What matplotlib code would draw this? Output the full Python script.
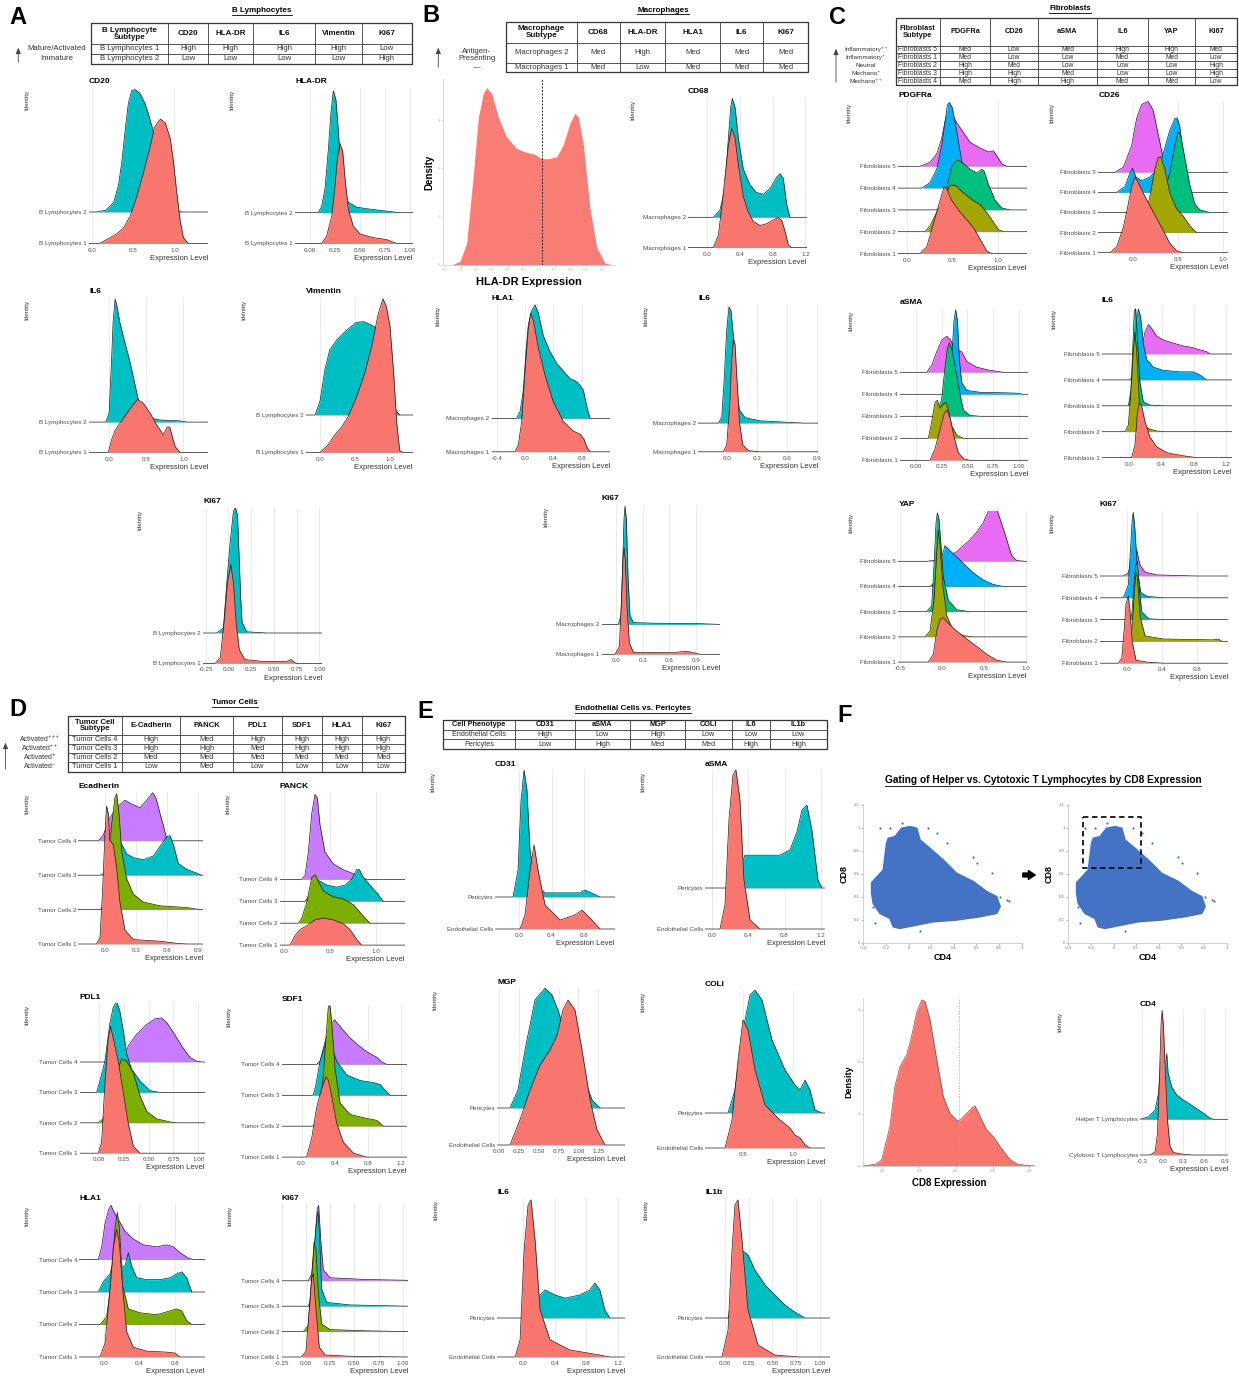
import matplotlib.pyplot as plt
from matplotlib.patches import Rectangle

W, H = 1239, 1383
plt.rcParams["font.family"] = ["Liberation Sans", "DejaVu Sans"]
plt.rcParams["mathtext.default"] = "regular"

HUE2 = ["#F8766D", "#00BFC4"]
HUE4 = ["#F8766D", "#7CAE00", "#00BFC4", "#C77CFF"]
HUE5 = ["#F8766D", "#A3A500", "#00BF7D", "#00B0F6", "#E76BF3"]

# ---------------- groups ----------------
B_LYMPH = ["B Lymphocytes 1", "B Lymphocytes 2"]
MACRO = ["Macrophages 1", "Macrophages 2"]
FIBRO = ["Fibroblasts 1", "Fibroblasts 2", "Fibroblasts 3", "Fibroblasts 4", "Fibroblasts 5"]
TUMOR = ["Tumor Cells 1", "Tumor Cells 2", "Tumor Cells 3", "Tumor Cells 4"]
ENDO = ["Endothelial Cells", "Pericytes"]
TCELL = ["Cytotoxic T Lymphocytes", "Helper T Lymphocytes"]

# ---------------- ridge curves: (expression, height in row units), bottom group first ----------------
A_CD20 = [
    [(0.09, 0), (0.22, 0.19), (0.30, 0.31), (0.38, 0.49), (0.46, 0.86), (0.54, 1.48), (0.62, 2.22), (0.70, 3.02),
     (0.76, 3.70), (0.83, 3.95), (0.89, 3.83), (0.95, 3.33), (0.99, 2.59), (1.03, 1.60), (1.07, 0.74), (1.11, 0.19), (1.17, 0)],
    [(0.05, 0), (0.17, 0.06), (0.26, 0.31), (0.32, 0.86), (0.36, 1.60), (0.40, 2.59), (0.44, 3.46), (0.48, 3.85),
     (0.52, 3.89), (0.58, 3.77), (0.64, 3.46), (0.68, 3.15), (0.72, 2.78), (0.78, 2.22), (0.87, 1.23), (0.95, 0.37), (1.03, 0.06), (1.09, 0)],
]
A_HLADR = [
    [(0.117, 0), (0.167, 0.25), (0.217, 0.875), (0.25, 1.875), (0.273, 2.75), (0.30, 3.25), (0.327, 3.0), (0.35, 2.125),
     (0.383, 1.125), (0.433, 0.56), (0.5, 0.31), (0.633, 0.19), (0.767, 0.125), (0.867, 0)],
    [(0.083, 0), (0.117, 0.21), (0.15, 0.78), (0.183, 2.03), (0.21, 3.28), (0.233, 3.96), (0.26, 3.65), (0.283, 2.65),
     (0.307, 1.53), (0.333, 0.78), (0.383, 0.34), (0.467, 0.18), (0.567, 0.13), (0.767, 0.05), (0.9, 0)],
]
A_IL6 = [
    [(-0.01, 0), (0.03, 0.39), (0.077, 0.71), (0.167, 1.04), (0.28, 1.43), (0.38, 1.75), (0.46, 1.62), (0.55, 1.30),
     (0.64, 0.91), (0.73, 0.58), (0.78, 0.84), (0.815, 0.84), (0.85, 0.52), (0.89, 0.19), (0.955, 0)],
    [(-0.045, 0), (0.0, 0.3), (0.03, 1.86), (0.054, 3.29), (0.081, 4.05), (0.108, 3.79), (0.144, 3.29), (0.21, 2.64),
     (0.28, 1.99), (0.35, 1.21), (0.41, 0.56), (0.50, 0.17), (0.68, 0.07), (0.95, 0.04), (1.05, 0)],
]
A_VIM = [
    [(0.0, 0), (0.12, 0.21), (0.21, 0.47), (0.31, 0.68), (0.40, 0.95), (0.52, 1.47), (0.64, 2.11), (0.74, 2.84),
     (0.83, 3.68), (0.90, 4.10), (0.95, 3.89), (1.0, 3.37), (1.05, 2.21), (1.10, 0.74), (1.14, 0.05), (1.19, 0)],
    [(-0.07, 0), (0.0, 0.37), (0.07, 1.21), (0.14, 1.74), (0.24, 2.0), (0.38, 2.26), (0.52, 2.47), (0.62, 2.49),
     (0.71, 2.42), (0.81, 2.32), (0.90, 1.84), (1.0, 1.0), (1.07, 0.16), (1.14, 0)],
]
A_KI67 = [
    [(-0.147, 0), (-0.09, 0.19), (-0.048, 1.36), (-0.011, 2.66), (0.026, 3.25), (0.055, 2.66), (0.084, 1.36), (0.12, 0.45),
     (0.18, 0.13), (0.385, 0.06), (0.64, 0.06), (0.69, 0.13), (0.714, 0.06), (0.75, 0)],
    [(-0.13, 0), (-0.055, 0.17), (-0.018, 1.66), (0.018, 2.96), (0.055, 4.0), (0.077, 4.13), (0.1, 3.87), (0.12, 2.31),
     (0.135, 1.14), (0.15, 0.36), (0.2, 0.04), (0.42, 0)],
]

B_CD68 = [
    [(0.073, 0), (0.135, 0.41), (0.176, 1.31), (0.216, 2.33), (0.257, 3.36), (0.298, 3.94), (0.339, 3.62), (0.38, 2.72),
     (0.44, 1.69), (0.50, 1.18), (0.563, 0.86), (0.645, 0.73), (0.727, 0.79), (0.808, 0.92), (0.869, 0.99), (0.91, 0.9),
     (0.95, 0.54), (0.99, 0.09), (1.03, 0)],
    [(0.073, 0), (0.155, 0.24), (0.216, 0.95), (0.257, 2.6), (0.286, 3.64), (0.306, 3.92), (0.339, 3.64), (0.38, 2.6),
     (0.44, 1.59), (0.52, 1.08), (0.60, 0.82), (0.686, 0.76), (0.767, 0.95), (0.849, 1.33), (0.89, 1.44), (0.93, 1.27),
     (0.97, 0.44), (1.01, 0)],
]
B_HLA1 = [
    [(-0.141, 0), (-0.094, 0.21), (-0.047, 0.91), (0.0, 2.42), (0.047, 3.7), (0.08, 4.16), (0.118, 3.93), (0.188, 3.12),
     (0.282, 2.3), (0.4, 1.49), (0.541, 0.91), (0.682, 0.62), (0.776, 0.53), (0.833, 0.38), (0.871, 0.15), (0.918, 0)],
    [(-0.118, 0), (-0.07, 0.2), (-0.024, 0.84), (0.014, 2.0), (0.047, 2.81), (0.094, 3.22), (0.141, 3.4), (0.188, 3.16),
     (0.259, 2.47), (0.353, 2.0), (0.447, 1.65), (0.541, 1.42), (0.635, 1.19), (0.706, 1.13), (0.776, 1.0), (0.824, 0.84),
     (0.871, 0.37), (0.918, 0)],
]
B_IL6 = [
    [(-0.033, 0), (0.0, 0.24), (0.027, 1.46), (0.05, 3.22), (0.067, 3.96), (0.083, 3.76), (0.1, 2.68), (0.127, 1.05),
     (0.16, 0.24), (0.217, 0.04), (0.333, 0)],
    [(-0.083, 0), (-0.05, 0.19), (-0.027, 1.41), (0.0, 3.24), (0.023, 4.05), (0.043, 3.92), (0.067, 3.0), (0.093, 1.41),
     (0.127, 0.46), (0.183, 0.19), (0.333, 0.08), (0.6, 0.03), (0.767, 0)],
]
B_KI67 = [
    [(-0.011, 0), (0.037, 0.26), (0.06, 1.69), (0.079, 3.25), (0.09, 3.57), (0.105, 3.12), (0.124, 1.56), (0.15, 0.39),
     (0.195, 0.06), (0.645, 0.06), (0.795, 0.1), (0.907, 0.03), (0.945, 0)],
    [(0.026, 0), (0.056, 0.3), (0.075, 1.99), (0.09, 3.53), (0.101, 3.96), (0.116, 3.53), (0.135, 1.6), (0.157, 0.3),
     (0.195, 0.06), (0.42, 0.04), (0.907, 0.03), (1.16, 0)],
]

C_PDGFRA = [
    [(0.14, 0), (0.214, 0.3), (0.288, 1.37), (0.362, 2.44), (0.406, 3.06), (0.435, 2.97), (0.49, 2.44), (0.583, 1.9),
     (0.657, 1.55), (0.731, 1.19), (0.804, 0.66), (0.878, 0.12), (0.934, 0)],
    [(0.196, 0), (0.25, 0.27), (0.325, 0.89), (0.417, 1.6), (0.472, 2.13), (0.528, 2.13), (0.62, 1.78), (0.73, 1.42),
     (0.804, 1.24), (0.878, 0.89), (0.952, 0.44), (1.007, 0.09), (1.063, 0)],
    [(0.325, 0), (0.4, 0.27), (0.454, 1.33), (0.49, 1.96), (0.546, 2.31), (0.62, 2.13), (0.694, 1.87), (0.768, 1.69),
     (0.823, 1.87), (0.849, 1.78), (0.897, 1.16), (0.97, 0.44), (1.044, 0.09), (1.137, 0)],
    [(0.159, 0), (0.25, 0.25), (0.325, 0.87), (0.38, 1.94), (0.417, 3.02), (0.443, 3.82), (0.465, 3.93), (0.494, 3.72),
     (0.528, 3.02), (0.565, 2.13), (0.601, 1.24), (0.638, 0.52), (0.694, 0.12), (0.768, 0)],
    [(0.14, 0), (0.25, 0.18), (0.325, 0.57), (0.38, 1.28), (0.417, 2.08), (0.454, 2.52), (0.49, 2.45), (0.546, 2.0),
     (0.62, 1.55), (0.694, 1.1), (0.804, 0.84), (0.897, 0.66), (0.952, 0.71), (0.989, 0.48), (1.044, 0.12), (1.1, 0)],
]
C_CD26 = [
    [(-0.259, 0), (-0.185, 0.29), (-0.111, 1.26), (-0.056, 2.42), (-0.019, 3.29), (0.019, 3.77), (0.056, 3.48), (0.13, 2.8),
     (0.222, 2.03), (0.315, 1.26), (0.407, 0.48), (0.481, 0.1), (0.556, 0)],
    [(0.056, 0), (0.13, 0.64), (0.185, 1.8), (0.241, 3.15), (0.278, 3.73), (0.307, 3.77), (0.352, 3.15), (0.407, 1.99),
     (0.481, 1.2), (0.556, 0.83), (0.63, 0.35), (0.704, 0)],
    [(0.259, 0), (0.333, 0.81), (0.407, 1.97), (0.463, 3.32), (0.5, 4.0), (0.526, 3.9), (0.574, 2.74), (0.63, 1.39),
     (0.685, 0.43), (0.741, 0.14), (0.852, 0)],
    [(-0.185, 0), (-0.093, 0.29), (-0.037, 0.97), (-0.007, 1.2), (0.03, 0.77), (0.093, 0.58), (0.185, 0.77), (0.278, 1.16),
     (0.333, 1.93), (0.407, 3.09), (0.463, 3.67), (0.489, 3.71), (0.519, 3.29), (0.556, 1.93), (0.593, 0.58), (0.63, 0)],
    [(-0.204, 0), (-0.111, 0.25), (-0.019, 1.31), (0.037, 2.67), (0.093, 3.38), (0.167, 3.52), (0.222, 3.09), (0.278, 1.89),
     (0.333, 0.73), (0.37, 0.12), (0.407, 0)],
]
C_ASMA = [
    [(0.136, 0), (0.185, 0.53), (0.234, 1.41), (0.273, 2.11), (0.299, 2.29), (0.331, 1.94), (0.37, 1.06), (0.412, 0.35),
     (0.461, 0.07), (0.526, 0)],
    [(0.12, 0), (0.153, 0.76), (0.185, 1.64), (0.208, 1.73), (0.234, 1.37), (0.266, 1.55), (0.292, 1.64), (0.315, 1.29),
     (0.347, 0.58), (0.396, 0.14), (0.461, 0)],
    [(0.201, 0), (0.25, 0.81), (0.282, 2.2), (0.305, 3.08), (0.325, 3.35), (0.347, 3.08), (0.39, 2.04), (0.429, 0.99),
     (0.461, 0.28), (0.526, 0.04), (0.623, 0)],
    [(0.299, 0), (0.331, 0.53), (0.351, 1.94), (0.37, 3.35), (0.386, 3.84), (0.403, 3.35), (0.422, 1.59), (0.445, 0.53),
     (0.494, 0.18), (0.623, 0.09), (0.851, 0.07), (0.981, 0.05), (1.045, 0)],
    [(0.104, 0), (0.153, 0.32), (0.201, 0.93), (0.25, 1.46), (0.299, 1.64), (0.338, 1.46), (0.37, 1.11), (0.445, 0.93),
     (0.494, 0.49), (0.591, 0.23), (0.721, 0.09), (0.851, 0)],
]
C_IL6 = [
    [(0.029, 0), (0.07, 0.49), (0.099, 1.69), (0.124, 2.14), (0.153, 1.99), (0.194, 1.39), (0.256, 0.79), (0.339, 0.42),
     (0.463, 0.19), (0.669, 0.07), (0.835, 0)],
    [(-0.054, 0), (-0.012, 0.25), (0.021, 1.6), (0.05, 3.1), (0.07, 3.85), (0.091, 3.1), (0.124, 1.16), (0.174, 0.25),
     (0.256, 0.1), (0.339, 0.03), (0.421, 0)],
    [(-0.012, 0), (0.021, 0.6), (0.041, 2.1), (0.062, 3.67), (0.079, 3.75), (0.099, 2.7), (0.132, 0.9), (0.174, 0.15),
     (0.256, 0.03), (0.421, 0)],
    [(0.008, 0), (0.05, 0.19), (0.07, 1.09), (0.091, 2.29), (0.112, 2.74), (0.14, 2.44), (0.174, 1.39), (0.215, 0.79),
     (0.298, 0.49), (0.421, 0.37), (0.628, 0.31), (0.793, 0.31), (0.876, 0.19), (0.959, 0)],
    [(0.112, 0), (0.153, 0.24), (0.194, 0.84), (0.236, 1.14), (0.277, 0.99), (0.339, 0.69), (0.421, 0.54), (0.545, 0.42),
     (0.669, 0.31), (0.793, 0.24), (0.876, 0.16), (0.959, 0.09), (1.0, 0)],
]
C_YAP = [
    [(-0.163, 0), (-0.103, 0.31), (-0.063, 1.23), (-0.024, 1.69), (0.016, 1.77), (0.075, 1.54), (0.175, 1.23), (0.294, 0.92),
     (0.413, 0.62), (0.532, 0.31), (0.651, 0.08), (0.77, 0)],
    [(-0.202, 0), (-0.143, 0.23), (-0.095, 1.46), (-0.063, 3.31), (-0.044, 4.23), (-0.024, 3.62), (0.008, 2.08), (0.056, 0.85),
     (0.135, 0.23), (0.254, 0.05), (0.373, 0)],
    [(-0.183, 0), (-0.123, 0.23), (-0.095, 1.85), (-0.071, 3.54), (-0.056, 3.92), (-0.036, 3.69), (-0.012, 2.62), (0.016, 1.38),
     (0.075, 0.46), (0.175, 0.08), (0.333, 0)],
    [(-0.143, 0), (-0.063, 0.23), (-0.004, 1.15), (0.036, 1.62), (0.075, 1.49), (0.155, 1.23), (0.254, 0.92), (0.373, 0.54),
     (0.492, 0.26), (0.611, 0.08), (0.73, 0)],
    [(-0.183, 0), (0.016, 0.08), (0.175, 0.38), (0.254, 0.62), (0.333, 0.85), (0.413, 1.15), (0.492, 1.54), (0.552, 2.0),
     (0.611, 2.18), (0.651, 2.08), (0.69, 1.69), (0.75, 1.08), (0.829, 0.23), (0.889, 0.03), (0.99, 0)],
]
C_KI67 = [
    [(-0.095, 0), (-0.057, 0.23), (-0.03, 1.48), (-0.008, 2.72), (0.019, 3.08), (0.038, 2.36), (0.065, 0.94), (0.107, 0.14),
     (0.229, 0.05), (0.419, 0)],
    [(0.019, 0), (0.057, 0.28), (0.084, 2.06), (0.103, 3.13), (0.122, 2.95), (0.152, 1.17), (0.21, 0.25), (0.419, 0.11),
     (0.99, 0.07), (1.048, 0.11), (1.086, 0)],
    [(0.019, 0), (0.057, 0.18), (0.084, 1.6), (0.103, 2.49), (0.122, 2.67), (0.141, 1.6), (0.171, 0.36), (0.248, 0.04),
     (0.419, 0)],
    [(-0.038, 0), (0.019, 0.6), (0.046, 2.4), (0.065, 3.73), (0.076, 3.91), (0.095, 3.11), (0.122, 1.32), (0.16, 0.25),
     (0.229, 0.07), (0.419, 0)],
    [(-0.038, 0), (0.019, 0.14), (0.057, 0.85), (0.084, 1.39), (0.114, 1.21), (0.152, 0.5), (0.21, 0.18), (0.343, 0.05),
     (0.61, 0.02), (0.8, 0)],
]

D_ECAD = [
    [(-0.08, 0), (-0.048, 0.19), (-0.023, 1.54), (0.0, 3.21), (0.016, 4.01), (0.032, 3.79), (0.048, 3.0), (0.08, 2.89),
     (0.113, 2.21), (0.145, 1.2), (0.193, 0.4), (0.273, 0.13), (0.531, 0.08), (0.691, 0.02), (0.788, 0)],
    [(-0.048, 0), (0.0, 0.11), (0.032, 1.12), (0.064, 2.47), (0.096, 3.26), (0.113, 3.37), (0.135, 2.81), (0.161, 1.69),
     (0.209, 0.9), (0.273, 0.45), (0.37, 0.22), (0.531, 0.11), (0.788, 0.06), (0.916, 0)],
    [(-0.048, 0), (0.0, 0.06), (0.064, 0.67), (0.113, 1.24), (0.161, 0.9), (0.209, 0.62), (0.273, 0.51), (0.37, 0.45),
     (0.466, 0.56), (0.531, 0.84), (0.595, 1.12), (0.627, 1.15), (0.659, 0.9), (0.707, 0.34), (0.788, 0.17), (0.884, 0.06), (0.932, 0)],
    [(-0.064, 0), (-0.016, 0.17), (0.048, 0.67), (0.129, 1.01), (0.193, 1.18), (0.257, 1.07), (0.338, 0.96), (0.402, 1.18),
     (0.46, 1.4), (0.492, 1.24), (0.531, 0.79), (0.563, 0.45), (0.595, 0.06), (0.627, 0)],
]
D_PANCK = [
    [(0.065, 0), (0.12, 0.44), (0.175, 0.71), (0.247, 0.88), (0.338, 1.15), (0.429, 1.24), (0.538, 1.15), (0.647, 0.97),
     (0.72, 0.71), (0.793, 0.26), (0.847, 0)],
    [(0.156, 0), (0.193, 0.23), (0.247, 0.94), (0.302, 2.08), (0.338, 2.21), (0.375, 1.91), (0.429, 1.46), (0.538, 1.2),
     (0.647, 1.11), (0.756, 0.85), (0.847, 0.41), (0.938, 0)],
    [(0.229, 0), (0.284, 0.3), (0.338, 1.01), (0.393, 0.92), (0.465, 0.74), (0.575, 0.65), (0.665, 0.74), (0.738, 1.01),
     (0.793, 1.45), (0.822, 1.45), (0.865, 1.09), (0.938, 0.74), (1.011, 0.39), (1.084, 0)],
    [(0.193, 0), (0.229, 0.18), (0.265, 1.24), (0.302, 3.0), (0.338, 3.88), (0.364, 3.71), (0.393, 2.47), (0.447, 1.24),
     (0.538, 0.71), (0.647, 0.44), (0.756, 0.26), (0.829, 0.14), (0.902, 0)],
]
D_PDL1 = [
    [(-0.007, 0), (0.027, 0.36), (0.06, 2.26), (0.094, 3.79), (0.117, 4.17), (0.144, 3.79), (0.195, 3.02), (0.245, 2.01),
     (0.295, 0.99), (0.346, 0.23), (0.413, 0)],
    [(-0.007, 0), (0.044, 0.13), (0.111, 0.76), (0.178, 1.65), (0.228, 2.1), (0.279, 2.03), (0.346, 1.65), (0.413, 0.89),
     (0.48, 0.38), (0.581, 0.13), (0.715, 0.03), (0.782, 0)],
    [(-0.023, 0), (0.01, 0.38), (0.06, 1.02), (0.111, 2.29), (0.144, 2.8), (0.178, 2.99), (0.211, 2.67), (0.245, 2.03),
     (0.279, 1.27), (0.329, 0.76), (0.413, 0.38), (0.513, 0.06), (0.614, 0)],
    [(0.245, 0), (0.295, 0.53), (0.379, 0.91), (0.48, 1.23), (0.564, 1.42), (0.631, 1.45), (0.681, 1.30), (0.748, 0.98),
     (0.832, 0.53), (0.916, 0.15), (0.983, 0.03), (1.034, 0)],
]
D_SDF1 = [
    [(0.06, 0), (0.121, 0.6), (0.181, 1.6), (0.242, 2.23), (0.294, 2.6), (0.323, 2.48), (0.363, 1.98), (0.423, 1.1),
     (0.504, 0.48), (0.625, 0.13), (0.786, 0)],
    [(0.141, 0), (0.202, 0.25), (0.254, 1.38), (0.294, 2.88), (0.323, 3.88), (0.343, 3.9), (0.363, 3.38), (0.403, 1.88),
     (0.464, 0.75), (0.585, 0.38), (0.786, 0.25), (0.907, 0.19), (0.988, 0)],
    [(0.141, 0), (0.173, 0.35), (0.222, 1.1), (0.282, 1.6), (0.323, 1.85), (0.363, 1.6), (0.423, 1.1), (0.544, 0.66),
     (0.706, 0.48), (0.867, 0.41), (0.948, 0.35), (1.028, 0.1), (1.069, 0)],
    [(0.181, 0), (0.222, 0.1), (0.282, 0.73), (0.343, 1.23), (0.395, 1.45), (0.464, 1.23), (0.565, 0.91), (0.665, 0.66),
     (0.786, 0.41), (0.907, 0.23), (0.968, 0.08), (1.028, 0)],
]
D_HLA1 = [
    [(-0.045, 0), (0.011, 0.42), (0.06, 1.85), (0.105, 3.39), (0.143, 3.93), (0.173, 3.51), (0.211, 2.08), (0.256, 0.77),
     (0.331, 0.3), (0.481, 0.18), (0.707, 0.15), (0.801, 0.12), (0.857, 0)],
    [(-0.045, 0), (0.03, 0.24), (0.086, 1.43), (0.124, 2.98), (0.15, 3.45), (0.173, 2.98), (0.211, 1.19), (0.274, 0.48),
     (0.406, 0.36), (0.594, 0.3), (0.744, 0.42), (0.82, 0.48), (0.876, 0.42), (0.932, 0.12), (0.989, 0)],
    [(-0.064, 0), (-0.008, 0.32), (0.068, 0.56), (0.124, 1.15), (0.18, 0.8), (0.237, 0.8), (0.274, 1.21), (0.312, 0.8),
     (0.368, 0.44), (0.481, 0.38), (0.632, 0.38), (0.744, 0.44), (0.82, 0.56), (0.876, 0.62), (0.932, 0.44), (0.989, 0)],
    [(-0.064, 0), (-0.026, 0.39), (0.011, 1.1), (0.049, 1.52), (0.079, 1.67), (0.113, 1.46), (0.162, 1.23), (0.237, 0.87),
     (0.331, 0.63), (0.444, 0.45), (0.594, 0.39), (0.707, 0.45), (0.782, 0.39), (0.857, 0.21), (0.951, 0.04), (1.008, 0)],
]
D_KI67 = [
    [(-0.045, 0), (0.0, 0.23), (0.034, 1.9), (0.059, 3.12), (0.076, 3.27), (0.103, 1.9), (0.138, 0.38), (0.197, 0.08),
     (0.455, 0.03), (1.05, 0)],
    [(-0.028, 0), (0.024, 0.23), (0.059, 2.13), (0.083, 3.5), (0.103, 3.2), (0.128, 1.52), (0.162, 0.3), (0.248, 0.08),
     (0.628, 0.03), (1.05, 0)],
    [(0.024, 0), (0.059, 0.38), (0.086, 2.21), (0.11, 3.42), (0.124, 3.73), (0.138, 2.97), (0.162, 0.68), (0.214, 0.15),
     (0.455, 0.05), (1.05, 0)],
    [(0.024, 0), (0.059, 0.27), (0.093, 1.64), (0.117, 2.85), (0.131, 2.96), (0.152, 1.64), (0.179, 0.43), (0.248, 0.12),
     (0.628, 0.05), (1.05, 0.02)],
]

E_CD31 = [
    [(0.012, 0), (0.074, 0.44), (0.135, 1.84), (0.185, 2.63), (0.234, 1.84), (0.32, 0.75), (0.505, 0.28), (0.689, 0.44),
     (0.775, 0.59), (0.874, 0.34), (0.997, 0)],
    [(-0.074, 0), (-0.012, 0.84), (0.025, 3.03), (0.062, 3.97), (0.098, 3.34), (0.135, 1.47), (0.197, 0.38), (0.32, 0.13),
     (0.75, 0.13), (0.81, 0.22), (0.997, 0)],
]
E_ASMA = [
    [(0.088, 0), (0.143, 0.59), (0.187, 2.66), (0.231, 3.76), (0.264, 3.88), (0.308, 3.15), (0.352, 1.2), (0.419, 0.22),
     (0.529, 0)],
    [(0.253, 0), (0.308, 0.44), (0.363, 0.8), (0.529, 0.8), (0.749, 0.8), (0.859, 0.93), (0.936, 1.37), (0.991, 1.9),
     (1.046, 2.02), (1.101, 1.41), (1.167, 0.2), (1.211, 0)],
]
E_MGP = [
    [(0.138, 0), (0.264, 0.68), (0.39, 1.49), (0.516, 2.16), (0.642, 2.57), (0.73, 2.97), (0.805, 3.65), (0.868, 3.92),
     (0.956, 3.65), (1.044, 2.57), (1.145, 1.22), (1.233, 0.41), (1.333, 0)],
    [(0.138, 0), (0.239, 0.49), (0.327, 1.57), (0.453, 2.92), (0.579, 3.24), (0.667, 3.05), (0.742, 2.65), (0.893, 1.57),
     (1.082, 0.76), (1.17, 0.22), (1.27, 0)],
]
E_COLI = [
    [(0.32, 0), (0.39, 0.8), (0.45, 2.51), (0.5, 3.66), (0.55, 3.37), (0.62, 2.23), (0.72, 1.23), (0.87, 0.8),
     (0.97, 0.57), (1.02, 0.37), (1.07, 0.29), (1.12, 0.09), (1.17, 0)],
    [(0.35, 0), (0.42, 0.66), (0.5, 2.37), (0.57, 3.37), (0.62, 3.51), (0.69, 3.23), (0.79, 2.09), (0.92, 1.23),
     (1.02, 0.8), (1.07, 0.66), (1.12, 0.94), (1.17, 0.66), (1.22, 0.09), (1.29, 0)],
]
E_IL6 = [
    [(-0.101, 0), (-0.038, 0.44), (0.013, 2.74), (0.063, 3.9), (0.101, 4.03), (0.152, 3.0), (0.215, 1.21), (0.341, 0.44),
     (0.593, 0.18), (0.972, 0.05), (1.098, 0)],
    [(0.025, 0), (0.088, 0.33), (0.152, 0.46), (0.215, 0.59), (0.278, 0.72), (0.404, 0.59), (0.53, 0.51), (0.72, 0.59),
     (0.846, 0.72), (0.909, 0.9), (0.972, 0.72), (1.035, 0.21), (1.098, 0)],
]
E_IL1B = [
    [(-0.032, 0), (0.032, 0.69), (0.074, 2.74), (0.105, 3.9), (0.137, 4.03), (0.179, 3.0), (0.242, 1.21), (0.347, 0.31),
     (0.526, 0.05), (0.789, 0)],
    [(0.032, 0), (0.084, 0.46), (0.137, 1.23), (0.179, 1.74), (0.242, 1.62), (0.316, 1.23), (0.421, 0.85), (0.526, 0.59),
     (0.632, 0.33), (0.737, 0.15), (0.842, 0)],
]

F_CD4 = [
    [(-0.184, 0), (-0.111, 0.09), (-0.077, 0.61), (-0.048, 2.2), (-0.024, 3.69), (-0.01, 4.05), (0.01, 3.6), (0.034, 2.48),
     (0.068, 0.98), (0.106, 0.23), (0.155, 0.07), (0.3, 0.02), (0.445, 0)],
    [(-0.329, 0), (-0.208, 0.07), (-0.111, 0.26), (-0.063, 0.72), (-0.029, 1.5), (-0.005, 2.2), (0.019, 1.4), (0.044, 1.6),
     (0.058, 1.84), (0.077, 1.3), (0.131, 0.9), (0.203, 0.68), (0.3, 0.54), (0.445, 0.36), (0.59, 0.17), (0.687, 0.03), (0.735, 0)],
]

# ---------------- density gating curves ----------------
B_DENS_X = [0.042, 0.096, 0.138, 0.18, 0.213, 0.244, 0.266, 0.298, 0.34, 0.393, 0.457, 0.521, 0.574, 0.617, 0.66,
            0.713, 0.755, 0.798, 0.83, 0.851, 0.883, 0.925, 0.968, 1.02, 1.074]
B_DENS_Y = [0, 0.08, 0.45, 1.84, 3.06, 3.55, 3.67, 3.55, 3.06, 2.65, 2.41, 2.33, 2.29, 2.2, 2.2,
            2.24, 2.49, 2.94, 3.14, 3.06, 2.49, 1.18, 0.37, 0.04, 0]
B_GATE = 0.617
F_DENS_X = [0.095, 0.167, 0.195, 0.24, 0.267, 0.295, 0.331, 0.358, 0.385, 0.413, 0.431, 0.458, 0.495, 0.531, 0.567,
            0.613, 0.649, 0.685, 0.704, 0.731, 0.767, 0.804, 0.84, 0.895, 0.931, 0.985, 1.03]
F_DENS_Y = [0, 0.04, 0.12, 0.76, 1.53, 1.91, 2.13, 2.49, 2.94, 3.19, 3.16, 2.81, 2.04, 1.33, 1.01,
            0.85, 0.98, 1.11, 1.15, 0.95, 0.69, 0.56, 0.37, 0.12, 0.04, 0.01, 0]
F_GATE = 0.618

# ---------------- CD4 vs CD8 scatter: outline of the dense cloud + isolated points ----------------
CLOUD_X = [-0.326, -0.223, -0.194, -0.179, -0.12, -0.061, 0.013, 0.072, 0.101, 0.189, 0.307, 0.425, 0.573, 0.691,
           0.779, 0.809, 0.779, 0.632, 0.425, 0.219, 0.072, -0.076, -0.135, -0.164, -0.253, -0.312, -0.326]
CLOUD_Y = [0.523, 0.633, 0.866, 0.909, 0.924, 0.997, 1.011, 0.997, 0.895, 0.822, 0.72, 0.604, 0.532, 0.445,
           0.401, 0.314, 0.256, 0.227, 0.198, 0.183, 0.154, 0.125, 0.139, 0.212, 0.256, 0.343, 0.43]
OUT_X = [-0.253, -0.164, -0.061, 0.175, 0.248, 0.337, 0.573, 0.602, 0.735, 0.809, 0.868, 0.892, -0.297, -0.312, 0.101, -0.253]
OUT_Y = [0.997, 0.997, 1.04, 0.997, 0.953, 0.866, 0.75, 0.692, 0.604, 0.401, 0.372, 0.363, 0.174, 0.314, 0.102, 0.604]
GATE_BOX = (-0.267, 0.24, 0.648, 1.098)

# ---------------- summary tables ----------------
TAB_A_HEAD = ["B Lymphocyte\nSubtype", "CD20", "HLA-DR", "IL6", "Vimentin", "Ki67"]
TAB_A_ROWS = [["B Lymphocytes 1", "High", "High", "High", "High", "Low"],
              ["B Lymphocytes 2", "Low", "Low", "Low", "Low", "High"]]
TAB_A_SIDE = ["Mature/Activated", "Immature"]
TAB_B_HEAD = ["Macrophage\nSubtype", "CD68", "HLA-DR", "HLA1", "IL6", "Ki67"]
TAB_B_ROWS = [["Macrophages 2", "Med", "High", "Med", "Med", "Med"],
              ["Macrophages 1", "Med", "Low", "Med", "Med", "Med"]]
TAB_C_HEAD = ["Fibroblast\nSubtype", "PDGFRa", "CD26", "aSMA", "IL6", "YAP", "Ki67"]
TAB_C_ROWS = [["Fibroblasts 5", "Med", "Low", "Med", "High", "High", "Med"],
              ["Fibroblasts 1", "Med", "Low", "Low", "Med", "Med", "Low"],
              ["Fibroblasts 2", "High", "Med", "Low", "Low", "Low", "High"],
              ["Fibroblasts 3", "High", "High", "Med", "Low", "Low", "High"],
              ["Fibroblasts 4", "Med", "High", "High", "Med", "Med", "Low"]]
TAB_C_SIDE = ["Inflammatory\u207a\u207a", "Inflammatory\u207a", "Neutral", "Mechano\u207a", "Mechano\u207a\u207a"]
TAB_D_HEAD = ["Tumor Cell\nSubtype", "E-Cadherin", "PANCK", "PDL1", "SDF1", "HLA1", "Ki67"]
TAB_D_ROWS = [["Tumor Cells 4", "High", "Med", "High", "High", "High", "High"],
              ["Tumor Cells 3", "High", "High", "Med", "High", "High", "High"],
              ["Tumor Cells 2", "Med", "Med", "Med", "Med", "Med", "Med"],
              ["Tumor Cells 1", "Low", "Med", "Low", "Low", "Low", "Low"]]
TAB_D_SIDE = ["Activated\u207a\u207a\u207a", "Activated\u207a\u207a", "Activated\u207a", "Activated\u207b"]
TAB_E_HEAD = ["Cell Phenotype", "CD31", "aSMA", "MGP", "COLI", "IL6", "IL1b"]
TAB_E_ROWS = [["Endothelial Cells", "High", "Low", "High", "Low", "Low", "Low"],
              ["Pericytes", "Low", "High", "Med", "Med", "High", "High"]]

# =====================================================================
fig = plt.figure(figsize=(W / 100, H / 100), dpi=100)
ov = fig.add_axes([0, 0, 1, 1])
ov.set_xlim(0, W)
ov.set_ylim(H, 0)
ov.axis("off")
renderer = fig.canvas.get_renderer()


def rect(x0, ytop, x1, ybot):
    return [x0 / W, 1 - ybot / H, (x1 - x0) / W, (ybot - ytop) / H]


def ridge(title, groups, curves, colors, x0, x1, xlim, base, sp, top, ticks, dec, ident_x):
    ax = fig.add_axes(rect(x0, top, x1, base + 2))
    ax.set_facecolor("none")
    ax.set_xlim(*xlim)
    ax.set_ylim(-2 / sp, (base - top) / sp)
    for t in ticks:
        ax.axvline(t, color="#e6e6e6", lw=0.6, zorder=0)
    n = len(curves)
    for i in range(n - 1, -1, -1):
        xs = [xlim[0]] + [p[0] for p in curves[i]] + [xlim[1]]
        ys = [i] + [i + p[1] for p in curves[i]] + [i]
        z = 2 + 2 * (n - i)
        ax.fill_between(xs, i, ys, color=colors[i], lw=0, zorder=z)
        ax.plot(xs, ys, color="#1a1a1a", lw=0.5, zorder=z + 0.5)
    ax.set_xticks(ticks)
    ax.set_xticklabels([f"{t:.{dec}f}" for t in ticks])
    ax.set_yticks(range(n))
    ax.set_yticklabels(groups)
    ax.tick_params(length=0, labelsize=4.5, labelcolor="#4d4d4d", pad=1.5)
    for s in ax.spines.values():
        s.set_visible(False)
    ax.set_xlabel("Expression Level", fontsize=5.5, color="#333333", loc="right", labelpad=1.5)
    ov.text(x0, top - 6, title, fontsize=6, fontweight="bold", va="center", ha="left")
    ov.text(ident_x, top + 12, "Identity", rotation=90, fontsize=4.5, color="#333333", ha="center", va="center")
    return ax


def underlined(x, y, s, size):
    t = ov.text(x, y, s, fontsize=size, fontweight="bold", ha="center", va="center")
    bb = t.get_window_extent(renderer)
    yl = H - bb.y0 + 0.8
    ov.plot([bb.x0, bb.x1], [yl, yl], color="black", lw=0.6)


def table(cols, rows, head, body, hsize=5.8, bsize=5.6):
    for x in cols:
        ov.plot([x, x], [rows[0], rows[-1]], color="#3a3a3a", lw=0.6)
    for y in rows:
        ov.plot([cols[0], cols[-1]], [y, y], color="#3a3a3a", lw=0.6)
    ov.add_patch(Rectangle((cols[0], rows[0]), cols[-1] - cols[0], rows[-1] - rows[0],
                           fill=False, ec="#222222", lw=0.9))
    for r, row in enumerate([head] + body):
        yc = (rows[r] + rows[r + 1]) / 2
        for c, txt in enumerate(row):
            xc = (cols[c] + cols[c + 1]) / 2
            ov.text(xc, yc, txt, ha="center", va="center", linespacing=0.95,
                    fontsize=hsize if r == 0 else bsize, fontweight="bold" if r == 0 else "normal",
                    color="#111111" if r == 0 else "#333333")


def side_arrow(x, y0, y1):
    ov.annotate("", xy=(x, y1), xytext=(x, y0),
                arrowprops=dict(arrowstyle="-|>,head_width=0.15,head_length=0.35", lw=0.6, color="#444444"))


def letter(x, y, s):
    ov.text(x, y, s, fontsize=17, fontweight="bold", ha="center", va="center")


# ---------------- Panel A ----------------
letter(18, 17, "A")
underlined(262, 11, "B Lymphocytes", 5.8)
table([90.7, 168.3, 208.3, 253.3, 315, 361.7, 411.7], [23.3, 44, 54, 64], TAB_A_HEAD, TAB_A_ROWS)
for s, y in zip(TAB_A_SIDE, [49, 59]):
    ov.text(57, y, s, fontsize=5.6, ha="center", va="center", color="#333333")
side_arrow(18.3, 65, 45)

ridge("CD20", B_LYMPH, A_CD20, HUE2, 89, 208, (-0.04, 1.41), 243.5, 31.5, 87.7, [0, 0.5, 1.0], 1, 27)
ridge("HLA-DR", B_LYMPH, A_HLADR, HUE2, 295, 413, (-0.15, 1.03), 243.5, 30.8, 87.7, [0, 0.25, 0.5, 0.75, 1.0], 2, 232)
ridge("IL6", B_LYMPH, A_IL6, HUE2, 89, 208, (-0.27, 1.33), 452.5, 30.4, 297.9, [0, 0.5, 1.0], 1, 27)
ridge("Vimentin", B_LYMPH, A_VIM, HUE2, 306, 413, (-0.2, 1.33), 452.5, 37.5, 297.9, [0, 0.5, 1.0], 1, 244)
ridge("Ki67", B_LYMPH, A_KI67, HUE2, 203, 322, (-0.28, 1.03), 663.4, 30.4, 507.7, [-0.25, 0, 0.25, 0.5, 0.75, 1.0], 2, 140)

# ---------------- Panel B ----------------
letter(431, 16, "B")
underlined(663, 10, "Macrophages", 5.8)
table([506, 576.7, 620, 665, 720, 763.3, 808.3], [21.7, 42.7, 63.3, 71.7], TAB_B_HEAD, TAB_B_ROWS)
ov.text(476.7, 55, "Antigen-\nPresenting", fontsize=5.6, ha="center", va="center", color="#333333", linespacing=1.0)
ov.text(476.7, 68, "\u2014", fontsize=5.6, ha="center", va="center", color="#333333")
side_arrow(438.3, 70, 45)

axd = fig.add_axes(rect(443.3, 79, 615, 265))
axd.fill_between(B_DENS_X, 0, B_DENS_Y, color="#F8766D", lw=0, alpha=0.95)
axd.axvline(B_GATE, color="#222222", lw=0.7, ls=(0, (2, 1.5)))
axd.set_xlim(-0.011, 1.085)
axd.set_ylim(0, 3.85)
axd.set_xticks([i / 10 for i in range(11)])
axd.set_xticklabels([f"{i / 10:.1f}" for i in range(11)])
axd.set_yticks([0, 1, 2, 3])
axd.set_yticklabels(["0", "1", "2", "3"])
axd.tick_params(length=1.5, width=0.4, labelsize=3, colors="#bbbbbb", pad=1)
for k in ["top", "right"]:
    axd.spines[k].set_visible(False)
for k in ["left", "bottom"]:
    axd.spines[k].set_color("#cccccc")
    axd.spines[k].set_linewidth(0.5)
axd.set_xlabel("HLA-DR Expression", fontsize=8, fontweight="bold", labelpad=3)
axd.set_ylabel("Density", fontsize=7, fontweight="bold", labelpad=2)
ov.text(521, 113, "Macrophages 1\n(HLA-DR$^{low}$)", fontsize=4.3, fontweight="bold", style="italic",
        ha="center", va="center", linespacing=1.1)
ov.text(563, 103, "Macrophages 2\n(HLA-DR$^{high}$)", fontsize=4.3, fontweight="bold", style="italic",
        ha="center", va="center", linespacing=1.1)

ridge("CD68", MACRO, B_CD68, HUE2, 688, 807, (-0.236, 1.219), 247.6, 30.3, 97.5, [0, 0.4, 0.8, 1.2], 1, 633)
ridge("HLA1", MACRO, B_HLA1, HUE2, 491.7, 610, (-0.47, 1.2), 451.8, 33.4, 304.3, [-0.4, 0, 0.4, 0.8], 1, 438)
ridge("IL6", MACRO, B_IL6, HUE2, 698.3, 818.3, (-0.284, 0.916), 451.8, 28.7, 304.3, [0, 0.3, 0.6, 0.9], 1, 646)
ridge("Ki67", MACRO, B_KI67, HUE2, 601.7, 720, (-0.161, 1.17), 654.3, 29.9, 504.9, [0, 0.3, 0.6, 0.9], 1, 546)

# ---------------- Panel C ----------------
letter(838, 17, "C")
underlined(1070, 9, "Fibroblasts", 5.6)
c_rows = [18.3, 45.5, 53.4, 61.3, 69.2, 77.1, 85]
table([895.7, 940, 990, 1038.3, 1096.7, 1148.3, 1195, 1237], c_rows, TAB_C_HEAD, TAB_C_ROWS, hsize=5.3, bsize=4.9)
for i, s in enumerate(TAB_C_SIDE):
    ov.text(866, (c_rows[i + 1] + c_rows[i + 2]) / 2, s, fontsize=4.6, ha="center", va="center", color="#333333")
side_arrow(836, 85, 46)

ridge("PDGFRa", FIBRO, C_PDGFRA, HUE5, 898.3, 1026.7, (-0.1, 1.32), 253.5, 21.8, 101.3, [0, 0.5, 1.0], 1, 849)
ridge("CD26", FIBRO, C_CD26, HUE5, 1098.3, 1228.3, (-0.39, 1.06), 252.7, 20.1, 101.3, [0, 0.5, 1.0], 1, 1052)
ridge("aSMA", FIBRO, C_ASMA, HUE5, 900, 1028.3, (-0.156, 1.093), 460.3, 22.0, 309, [0, 0.25, 0.5, 0.75, 1.0], 2, 851)
ridge("IL6", FIBRO, C_IL6, HUE5, 1101.7, 1231.7, (-0.342, 1.269), 457.6, 25.9, 307, [0, 0.4, 0.8, 1.2], 1, 1054)
ridge("YAP", FIBRO, C_YAP, HUE5, 898.3, 1026.7, (-0.52, 1.008), 662.1, 25.2, 510.7, [-0.5, 0, 0.5, 1.0], 1, 851)
ridge("Ki67", FIBRO, C_KI67, HUE5, 1100, 1228.3, (-0.305, 1.161), 663.2, 21.8, 510.7, [0, 0.4, 0.8], 1, 1052)

# ---------------- Panel D ----------------
letter(17.5, 710, "D")
underlined(235, 703, "Tumor Cells", 5.8)
d_rows = [716, 735, 744.3, 753.3, 762.3, 771.7]
table([67.7, 121.7, 180, 233.3, 281.7, 321.7, 361.7, 405], d_rows, TAB_D_HEAD, TAB_D_ROWS, hsize=5.6, bsize=5.3)
for i, s in enumerate(TAB_D_SIDE):
    ov.text(40, (d_rows[i + 1] + d_rows[i + 2]) / 2, s, fontsize=5.0, ha="center", va="center", color="#333333")
side_arrow(5.5, 772, 740)

ridge("Ecadherin", TUMOR, D_ECAD, HUE4, 78.3, 203.3, (-0.257, 0.948), 944, 34.4, 792.4, [0, 0.3, 0.6, 0.9], 1, 26.7)
ridge("PANCK", TUMOR, D_PANCK, HUE4, 280, 405, (-0.044, 1.32), 945.1, 21.9, 792.4, [0, 0.5, 1.0], 1, 228.3)
ridge("PDL1", TUMOR, D_PDL1, HUE4, 80, 205, (-0.19, 1.067), 1153.2, 30.4, 1003.2, [0, 0.25, 0.5, 0.75, 1.0], 2, 27.3)
ridge("SDF1", TUMOR, D_SDF1, HUE4, 281.7, 406.7, (-0.24, 1.268), 1157.1, 30.9, 1005.1, [0, 0.4, 0.8, 1.2], 1, 229.3)
ridge("HLA1", TUMOR, D_HLA1, HUE4, 79.3, 205, (-0.278, 1.138), 1357, 32.5, 1204.2, [0, 0.4, 0.8], 1, 27.3)
ridge("Ki67", TUMOR, D_KI67, HUE4, 281.7, 408.3, (-0.251, 1.058), 1357, 25.4, 1204.2, [-0.25, 0, 0.25, 0.5, 0.75, 1.0], 2, 230)

# ---------------- Panel E ----------------
letter(425, 712, "E")
underlined(633, 709, "Endothelial Cells vs. Pericytes", 5.8)
table([443.3, 515, 575, 630, 685, 731.7, 770, 826.7], [720, 729.6, 739.2, 749], TAB_E_HEAD, TAB_E_ROWS,
      hsize=5.3, bsize=5.2)

ridge("CD31", ENDO, E_CD31, HUE2, 495, 615, (-0.295, 1.18), 929, 32, 770, [0, 0.4, 0.8], 1, 433)
ridge("aSMA", ENDO, E_ASMA, HUE2, 705, 825, (-0.077, 1.245), 929, 41, 770, [0, 0.4, 0.8, 1.2], 1, 643)
ridge("MGP", ENDO, E_MGP, HUE2, 497, 625, (-0.025, 1.585), 1145, 37, 988, [0, 0.25, 0.5, 0.75, 1.0, 1.25], 2, 435)
ridge("COLI", ENDO, E_COLI, HUE2, 705, 825, (0.12, 1.32), 1148, 35, 990, [0.5, 1.0], 1, 643)
ridge("IL6", ENDO, E_IL6, HUE2, 497, 625, (-0.33, 1.29), 1357, 39, 1198, [0, 0.4, 0.8, 1.2], 1, 436)
ridge("IL1b", ENDO, E_IL1B, HUE2, 705, 830, (-0.21, 1.105), 1357, 39, 1198, [0, 0.25, 0.5, 0.75, 1.0], 2, 646)

# ---------------- Panel F ----------------
letter(845, 715, "F")
underlined(1043, 780, "Gating of Helper vs. Cytotoxic T Lymphocytes by CD8 Expression", 7.3)


def scatter_panel(x0, gate):
    ax = fig.add_axes(rect(x0, 805, x0 + 158.4, 942.7))
    ax.fill(CLOUD_X, CLOUD_Y, color="#4472C4", lw=1.2, ec="#4472C4")
    ax.scatter(OUT_X, OUT_Y, s=2.5, color="#4472C4", lw=0)
    ax.set_xlim(-0.4, 1.0)
    ax.set_ylim(0, 1.2)
    xt = [-0.4, -0.2, 0, 0.2, 0.4, 0.6, 0.8, 1.0]
    yt = [0, 0.2, 0.4, 0.6, 0.8, 1.0, 1.2]
    ax.set_xticks(xt)
    ax.set_xticklabels([f"{v:g}" for v in xt])
    ax.set_yticks(yt)
    ax.set_yticklabels([f"{v:g}" for v in yt])
    ax.tick_params(length=1.5, width=0.4, labelsize=3, colors="#777777", pad=1)
    for k in ["top", "right"]:
        ax.spines[k].set_visible(False)
    for k in ["left", "bottom"]:
        ax.spines[k].set_color("#bfbfbf")
        ax.spines[k].set_linewidth(0.5)
    ax.set_xlabel("CD4", fontsize=6.5, fontweight="bold", labelpad=2)
    ax.set_ylabel("CD8", fontsize=6.5, fontweight="bold", labelpad=4)
    if gate:
        gx0, gx1, gy0, gy1 = GATE_BOX
        ax.plot([gx0, gx1, gx1, gx0, gx0], [gy1, gy1, gy0, gy0, gy1], color="#111111", lw=1.3, ls=(0, (3, 2)))


scatter_panel(863.3, False)
scatter_panel(1068.3, True)
ov.annotate("", xy=(1038, 875), xytext=(1020, 875),
            arrowprops=dict(arrowstyle="simple,head_width=0.9,head_length=0.7,tail_width=0.4",
                            mutation_scale=7, fc="black", ec="black"))

axf = fig.add_axes(rect(863.3, 998.3, 1035, 1166))
axf.fill_between(F_DENS_X, 0, F_DENS_Y, color="#F8766D", lw=0)
axf.plot(F_DENS_X, F_DENS_Y, color="#8a4a44", lw=0.5)
axf.axvline(F_GATE, color="#aaaaaa", lw=0.7, ls=":")
axf.set_xlim(0.095, 1.03)
axf.set_ylim(0, 3.22)
axf.set_xticks([0.2, 0.4, 0.6, 0.8, 1.0])
axf.set_xticklabels(["0.2", "0.4", "0.6", "0.8", "1.0"])
axf.set_yticks([0, 1, 2, 3])
axf.set_yticklabels(["0", "1", "2", "3"])
axf.tick_params(length=1.5, width=0.4, labelsize=3, colors="#999999", pad=1)
for k in ["top", "right"]:
    axf.spines[k].set_visible(False)
for k in ["left", "bottom"]:
    axf.spines[k].set_color("#cccccc")
    axf.spines[k].set_linewidth(0.5)
axf.set_xlabel("CD8 Expression", fontsize=7, fontweight="bold", labelpad=3)
axf.set_ylabel("Density", fontsize=6.5, fontweight="bold", labelpad=3)
ov.text(1000, 1073, "Cytotoxic\nT Lymphocytes\n(CD8$^{high}$)", fontsize=5.2, fontweight="bold", style="italic",
        ha="center", va="center", linespacing=1.1)
ov.text(922, 1133, "Helper\nT Lymphocytes\n(CD8$^{low}$)", fontsize=5.2, fontweight="bold", style="italic",
        ha="center", va="center", linespacing=1.1, color="#2a0a0a")

ridge("CD4", TCELL, F_CD4, HUE2, 1140, 1228.3, (-0.33, 0.95), 1155, 35.7, 1010, [-0.3, 0, 0.3, 0.6, 0.9], 1, 1060)

fig.savefig("out.png", dpi=100)
